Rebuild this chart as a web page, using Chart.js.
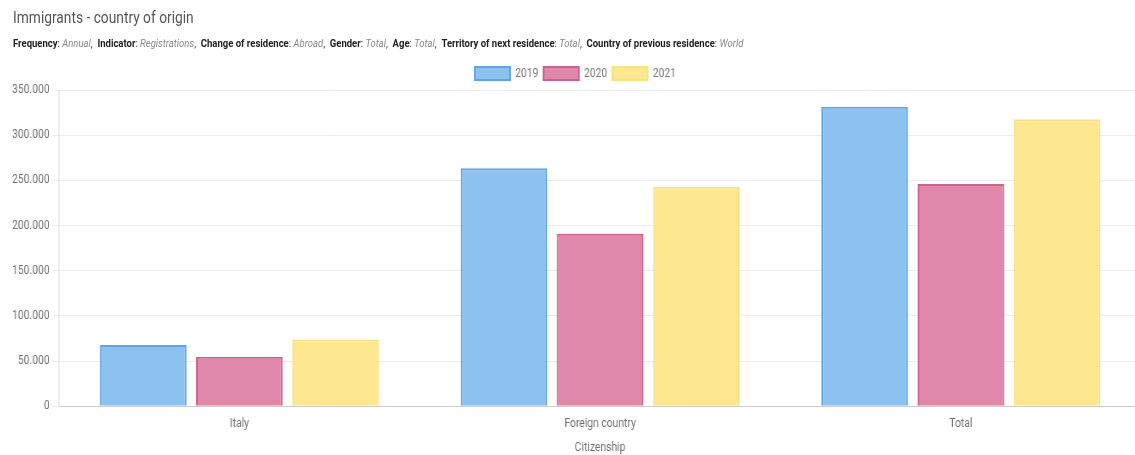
<!DOCTYPE html>
<html><head><meta charset="utf-8">
<script src="https://cdn.jsdelivr.net/npm/chart.js@4/dist/chart.umd.min.js"></script>
<style>
html,body{margin:0;padding:0;background:#fff;overflow:hidden;}
#wrap{position:relative;width:1135px;height:455px;overflow:hidden;}
#title{position:absolute;left:13px;top:8px;font-family:Roboto,sans-serif;font-size:16px;color:#555;white-space:nowrap;transform:scaleX(0.86);transform-origin:left top;}
#sub{position:absolute;left:13px;top:37px;font-family:Roboto,sans-serif;font-size:11px;color:#333;white-space:nowrap;transform:scaleX(0.865);transform-origin:left top;}
#sub b{font-weight:bold;color:#222;}
#sub i{color:#888;}
#cw{position:absolute;left:0;top:0;transform:scaleX(0.86);transform-origin:left top;}
</style></head>
<body><div id="wrap">
<div id="cw"><canvas id="c" width="1327" height="455"></canvas></div>
<div id="title">Immigrants - country of origin</div>
<div id="sub"><b>Frequency</b>: <i>Annual</i>,&nbsp; <b>Indicator</b>: <i>Registrations</i>,&nbsp; <b>Change of residence</b>: <i>Abroad</i>,&nbsp; <b>Gender</b>: <i>Total</i>,&nbsp; <b>Age</b>: <i>Total</i>,&nbsp; <b>Territory of next residence</b>: <i>Total</i>,&nbsp; <b>Country of previous residence</b>: <i>World</i></div>
</div>
<script>
const categories = ["Italy", "Foreign country", "Total"];
const years = ["2019", "2020", "2021"];
const values2019 = [67800, 263500, 331500];
const values2020 = [54800, 190800, 246000];
const values2021 = [73900, 243000, 317500];
const yTicks = [0, 50000, 100000, 150000, 200000, 250000, 300000, 350000];

const fills = ["#8dc1f0", "#e088ab", "#fde78f"];
const borders = ["#5ea6e4", "#cf5f8d", "#fbe085"];
const series = [values2019, values2020, values2021];

new Chart(document.getElementById('c'), {
  type: 'bar',
  data: {
    labels: categories,
    datasets: years.map((y, i) => ({
      label: y, data: series[i],
      backgroundColor: fills[i], borderColor: borders[i], borderWidth: 2
    }))
  },
  options: {
    responsive: false, animation: false,
    layout: { padding: { top: 61, right: 0, left: 11, bottom: 0 } },
    plugins: {
      legend: { labels: { boxWidth: 41, boxHeight: 13, padding: 6, color: '#777', font: { family: 'Roboto', size: 12 } } },
      tooltip: { enabled: false }
    },
    scales: {
      x: {
        grid: { display: false },
        border: { color: '#ccc' },
        ticks: { color: '#707070', font: { family: 'Roboto', size: 12 } },
        title: { display: true, text: 'Citizenship', color: '#707070', padding: { top: 6, bottom: 0 }, font: { family: 'Roboto', size: 12 } }
      },
      y: {
        min: 0, max: 350000,
        afterBuildTicks: (ax) => { ax.ticks = yTicks.map(v => ({ value: v })); },
        grid: { color: '#ececec' },
        border: { color: '#ddd' },
        ticks: { color: '#707070', font: { family: 'Roboto', size: 12 },
          callback: v => v.toString().replace(/\B(?=(\d{3})+(?!\d))/g, '.') }
      }
    }
  }
});
</script>
</body></html>
